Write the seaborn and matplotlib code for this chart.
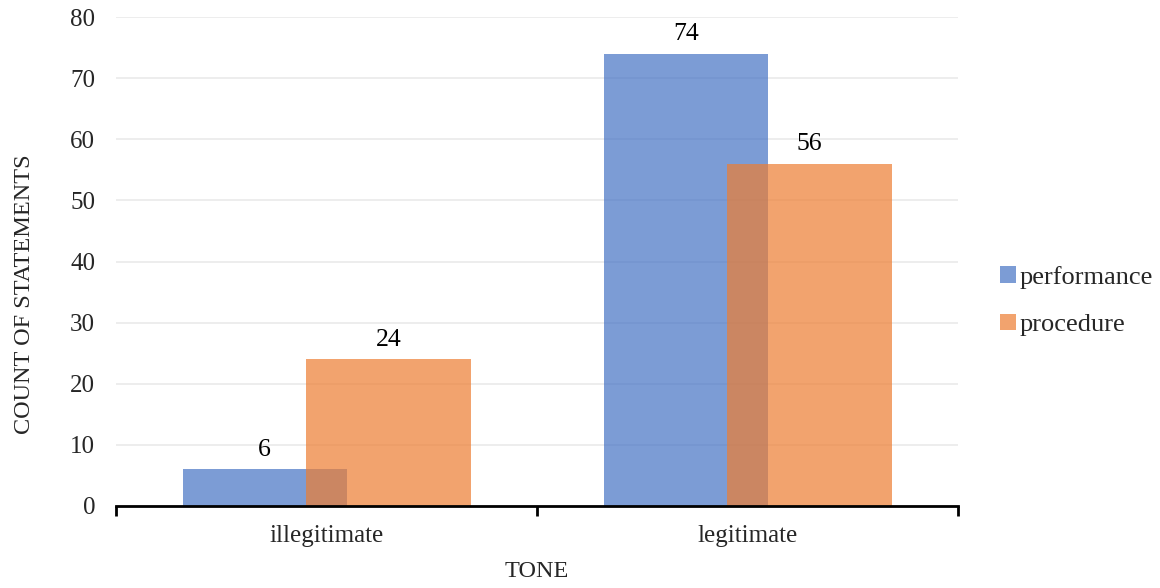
import matplotlib
matplotlib.use("Agg")
import matplotlib.pyplot as plt
import seaborn as sns
import pandas as pd
from matplotlib.patches import Patch

# data
categories = ["illegitimate", "legitimate"]
performance = [6, 74]
procedure = [24, 56]
series_names = ["performance", "procedure"]

sns.set_style("white")
plt.rcParams["font.family"] = ["Liberation Serif", "DejaVu Serif"]

colors = {"performance": "#4472C4", "procedure": "#ED7D31"}
bar_width = 0.39
offsets = {"performance": -0.147, "procedure": 0.147}

fig = plt.figure(figsize=(11.6, 5.88), dpi=100)
ax = fig.add_axes([0.1, 0.1395, 0.726, 0.8315])

for name, vals in zip(series_names, [performance, procedure]):
    df = pd.DataFrame({"tone": categories, "count": vals})
    before = len(ax.patches)
    sns.barplot(data=df, x="tone", y="count", order=categories, color=colors[name],
                width=bar_width, alpha=0.7, saturation=1, errorbar=None, ax=ax,
                linewidth=0)
    # shift so the two series overlap like the original
    for p in ax.patches[before:]:
        p.set_x(p.get_x() + offsets[name])
    ax.bar_label(ax.containers[-1], labels=[str(v) for v in vals], padding=6,
                 fontsize=18.5, color="#000000")

ax.set_ylim(0, 80)
ax.set_xlim(-0.5, 1.5)
ax.set_yticks(range(0, 81, 10))
ax.yaxis.grid(True, color="#EAEAEA", linewidth=1.2)
ax.set_axisbelow(True)

for s in ["left", "right", "top"]:
    ax.spines[s].set_visible(False)
ax.spines["bottom"].set_color("black")
ax.spines["bottom"].set_linewidth(2)

ax.set_xticks([0, 1])
ax.set_xticklabels(categories)
ax.set_xticks([-0.5, 0.5, 1.5], minor=True)
ax.tick_params(axis="x", which="major", bottom=True, length=0, pad=14, labelsize=18)
ax.tick_params(axis="x", which="minor", bottom=True, length=7, width=2,
               color="black", direction="out")
ax.tick_params(axis="y", length=0, pad=15, labelsize=18)

ax.set_xlabel("TONE", fontsize=17.5, labelpad=10)
ax.set_ylabel("COUNT OF STATEMENTS", fontsize=17.5)
ax.yaxis.set_label_coords(-0.096, 0.4335)

handles = [Patch(facecolor=colors[n], alpha=0.7, edgecolor="none") for n in series_names]
fig.legend(handles, series_names, loc="center left", bbox_to_anchor=(0.862, 0.488),
           frameon=False, fontsize=19, handlelength=0.6, handleheight=0.6,
           handletextpad=0.15, labelspacing=0.95, borderpad=0, borderaxespad=0)

fig.savefig("out.png", dpi=100)
